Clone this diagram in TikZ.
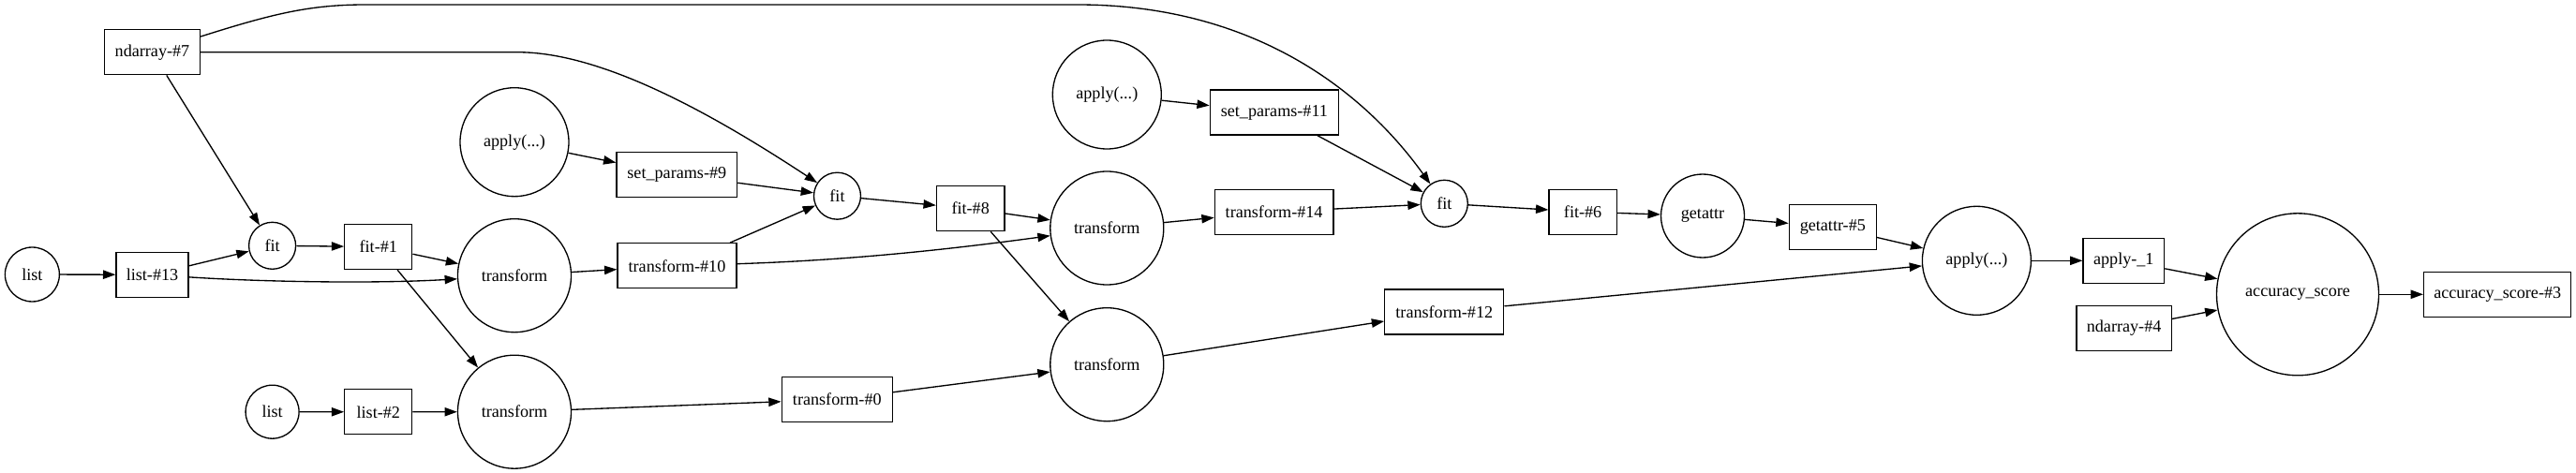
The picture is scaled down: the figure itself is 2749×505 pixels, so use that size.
\documentclass[tikz,border=0pt]{standalone}
\usepackage{fontspec}
\setmainfont{Liberation Serif}
\usetikzlibrary{arrows.meta}
\begin{document}
\begin{tikzpicture}[x=0.75pt,y=0.75pt,
  every node/.style={font=\fontsize{13.6pt}{16pt}\selectfont, inner sep=0pt},
  bx/.style={draw, rectangle, minimum height=36pt, minimum width=#1*0.75pt, line width=1pt},
  cc/.style={draw, circle, minimum size=#1*0.75pt, line width=1pt},
  edge/.style={-{Triangle[length=10pt,width=7pt]}, line width=1pt},
]
\useasboundingbox (0,0) rectangle (2749,-505);
% nodes
\node[cc=58] (lst1) at (34.4,-293) {list};
\node[bx=77] (l13) at (162.5,-293.3) {list-\#13};
\node[bx=102] (nd7) at (162.5,-55.8) {ndarray-\#7};
\node[cc=50] (fit1) at (290.6,-262.3) {fit};
\node[bx=72] (f1) at (403.8,-263.5) {fit-\#1};
\node[cc=121] (tr1) at (549,-294.2) {transform};
\node[cc=116] (ap1) at (549,-151.7) {apply(...)};
\node[cc=57] (lst2) at (290.6,-439.7) {list};
\node[bx=72] (l2) at (403.8,-439.8) {list-\#2};
\node[cc=121] (tr2) at (549,-439.7) {transform};
\node[bx=128.6] (sp9) at (722.3,-186.7) {set\_params-\#9};
\node[bx=127] (t10) at (722.5,-283.8) {transform-\#10};
\node[cc=50] (fit2) at (893.5,-209.2) {fit};
\node[bx=72.4] (f8) at (1035.7,-222.7) {fit-\#8};
\node[bx=118] (t0) at (893.3,-426.5) {transform-\#0};
\node[cc=121] (tr3) at (1181.3,-243.5) {transform};
\node[cc=121] (tr4) at (1181.3,-389.2) {transform};
\node[cc=116] (ap2) at (1181.3,-101) {apply(...)};
\node[bx=137] (sp11) at (1359.9,-120) {set\_params-\#11};
\node[bx=126.5] (t14) at (1359.6,-226.2) {transform-\#14};
\node[bx=127] (t12) at (1541.3,-333) {transform-\#12};
\node[cc=50] (fit3) at (1541.3,-217.3) {fit};
\node[bx=72.2] (f6) at (1689.1,-226.2) {fit-\#6};
\node[cc=89] (ga) at (1817,-230.5) {getattr};
\node[bx=93] (ga5) at (1955.8,-242.5) {getattr-\#5};
\node[cc=116] (ap3) at (2109.4,-278.3) {apply(...)};
\node[bx=86.5] (apl) at (2266.3,-278.3) {apply-\_1};
\node[bx=101.3] (nd4) at (2266.6,-350.5) {ndarray-\#4};
\node[cc=173] (acc) at (2452,-314.3) {accuracy\_score};
\node[bx=157.2] (acc3) at (2665.2,-314.3) {accuracy\_score-\#3};
% edges
\draw[edge] (lst1) -- (l13);
\draw[edge] (l13) -- (fit1);
\draw[edge] (l13) .. controls (280,-301) and (400,-303) .. (tr1);
\draw[edge] (nd7) -- (fit1);
\draw[edge] (nd7.east) -- (557,-55.8) .. controls (650,-58) and (770,-128) .. (fit2);
\draw[edge] (nd7.18) .. controls (290,-15) and (330,-5) .. (390,-5) -- (1150,-5) .. controls (1330,-5) and (1450,-90) .. (fit3);
\draw[edge] (fit1) -- (f1);
\draw[edge] (f1) -- (tr1);
\draw[edge] (f1) -- (tr2);
\draw[edge] (lst2) -- (l2);
\draw[edge] (l2) -- (tr2);
\draw[edge] (ap1) -- (sp9);
\draw[edge] (sp9) -- (fit2);
\draw[edge] (tr1) -- (t10);
\draw[edge] (t10) -- (fit2);
\draw[edge] (t10) .. controls (900,-278) and (1000,-268) .. (tr3);
\draw[edge] (fit2) -- (f8);
\draw[edge] (f8) -- (tr3);
\draw[edge] (f8) -- (tr4);
\draw[edge] (tr2) -- (t0);
\draw[edge] (t0) -- (tr4);
\draw[edge] (ap2) -- (sp11);
\draw[edge] (sp11) -- (fit3);
\draw[edge] (tr3) -- (t14);
\draw[edge] (t14) -- (fit3);
\draw[edge] (fit3) -- (f6);
\draw[edge] (f6) -- (ga);
\draw[edge] (ga) -- (ga5);
\draw[edge] (ga5) -- (ap3);
\draw[edge] (tr4) -- (t12);
\draw[edge] (t12) -- (ap3);
\draw[edge] (ap3) -- (apl);
\draw[edge] (apl) -- (acc);
\draw[edge] (nd4) -- (acc);
\draw[edge] (acc) -- (acc3);
\end{tikzpicture}
\end{document}
